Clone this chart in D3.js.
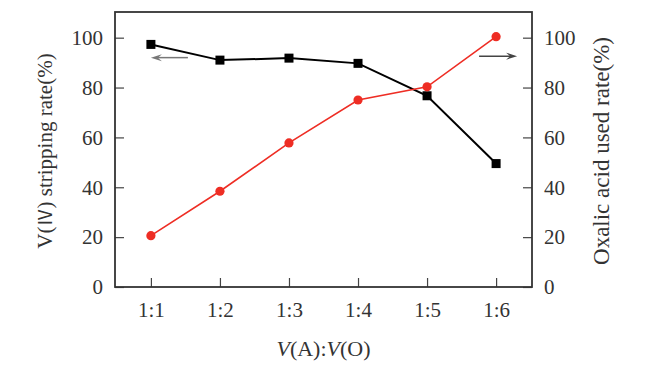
<!DOCTYPE html>
<html>
<head>
<meta charset="utf-8">
<script src="https://cdn.jsdelivr.net/npm/d3@7"></script>
<style>
  body { margin: 0; background: #fff; }
  svg text { font-family: "Liberation Serif", "Times New Roman", serif; fill: #333; }
</style>
</head>
<body>
<svg id="chart"></svg>
<script>
// data
var ratios = ['1:1', '1:2', '1:3', '1:4', '1:5', '1:6'];
var strippingRate = [97.3, 91.0, 91.8, 89.7, 76.7, 49.5];   // left axis, black squares
var oxalicUsedRate = [20.6, 38.4, 57.8, 75.0, 80.3, 100.4]; // right axis, red circles
var yTicks = [0, 20, 40, 60, 80, 100];

var width = 663,
    height = 372,
    margin = { top: 12, right: 131, bottom: 85, left: 115 };

var svg = d3.select('#chart')
    .attr('width', width)
    .attr('height', height);

var x = d3.scalePoint()
    .domain(ratios)
    .range([margin.left, width - margin.right])
    .padding(0.52);

var y = d3.scaleLinear()
    .domain([0, 110.3])
    .range([height - margin.bottom, margin.top]);

var y2 = d3.scaleLinear()
    .domain([0, 110.3])
    .range([height - margin.bottom, margin.top]);

var fontSize = '21px';

//axes, ticks drawn inward
var xAxis = d3.axisBottom(x).tickSizeInner(-9).tickSizeOuter(0).tickPadding(15);
var yAxis = d3.axisLeft(y).tickValues(yTicks).tickSizeInner(-9).tickSizeOuter(0).tickPadding(12);
var yAxis2 = d3.axisRight(y2).tickValues(yTicks).tickSizeInner(-9).tickSizeOuter(0).tickPadding(12);

function styleAxis(g) {
    g.select('.domain').remove();
    g.selectAll('line').attr('stroke', '#444').attr('stroke-width', 1.2);
    g.selectAll('text').attr('font-size', fontSize).attr('fill', '#333')
        .style('font-family', '"Liberation Serif", serif');
}

svg.append('g')
    .attr('transform', 'translate(0,' + (height - margin.bottom) + ')')
    .call(xAxis)
    .call(styleAxis);

svg.append('g')
    .attr('transform', 'translate(' + margin.left + ',0)')
    .call(yAxis)
    .call(styleAxis);

svg.append('g')
    .attr('transform', 'translate(' + (width - margin.right) + ',0)')
    .call(yAxis2)
    .call(styleAxis);

//frame
svg.append('rect')
    .attr('x', margin.left)
    .attr('y', margin.top)
    .attr('width', width - margin.left - margin.right)
    .attr('height', height - margin.top - margin.bottom)
    .attr('fill', 'none')
    .attr('stroke', '#333')
    .attr('stroke-width', 1.8);

//black series
var lineL = d3.line()
    .x(function (d, i) { return x(ratios[i]); })
    .y(function (d) { return y(d); });

svg.append('path')
    .datum(strippingRate)
    .attr('d', lineL)
    .attr('fill', 'none')
    .attr('stroke', '#000')
    .attr('stroke-width', 2);

svg.selectAll('rect.sq')
    .data(strippingRate)
    .enter().append('rect')
    .attr('class', 'sq')
    .attr('x', function (d, i) { return x(ratios[i]) - 4.5; })
    .attr('y', function (d) { return y(d) - 4.5; })
    .attr('width', 9)
    .attr('height', 9)
    .attr('fill', '#000');

//red series
var lineR = d3.line()
    .x(function (d, i) { return x(ratios[i]); })
    .y(function (d) { return y2(d); });

svg.append('path')
    .datum(oxalicUsedRate)
    .attr('d', lineR)
    .attr('fill', 'none')
    .attr('stroke', '#ee2d24')
    .attr('stroke-width', 1.6);

svg.selectAll('circle.dot')
    .data(oxalicUsedRate)
    .enter().append('circle')
    .attr('class', 'dot')
    .attr('cx', function (d, i) { return x(ratios[i]); })
    .attr('cy', function (d) { return y2(d); })
    .attr('r', 4.6)
    .attr('fill', '#ee2d24');

//axis-pointer arrows
function arrow(x1, x2, yy, color) {
    var dir = x2 > x1 ? 1 : -1;
    svg.append('line')
        .attr('x1', x1).attr('x2', x2 - dir * 6)
        .attr('y1', yy).attr('y2', yy)
        .attr('stroke', color)
        .attr('stroke-width', 1.5);
    svg.append('path')
        .attr('d', 'M' + x2 + ',' + yy +
            'L' + (x2 - dir * 11) + ',' + (yy - 3.5) +
            'L' + (x2 - dir * 7) + ',' + yy +
            'L' + (x2 - dir * 11) + ',' + (yy + 3.5) + 'Z')
        .attr('fill', color);
}
arrow(x(ratios[0]) + 37, x(ratios[0]), y(92), '#777');
arrow(x(ratios[5]) - 17, x(ratios[5]) + 21, y2(92.6), '#444');

//titles
svg.append('text')
    .attr('x', (margin.left + width - margin.right) / 2)
    .attr('y', 356)
    .attr('text-anchor', 'middle')
    .attr('font-size', '22px')
    .html('<tspan font-style="italic">V</tspan>(A):<tspan font-style="italic">V</tspan>(O)');

svg.append('text')
    .attr('transform', 'translate(52,' + 151 + ') rotate(-90)')
    .attr('text-anchor', 'middle')
    .attr('font-size', fontSize)
    .html('V(<tspan style="font-family:\'Noto Sans CJK SC\'" font-size="18px">Ⅳ</tspan>) stripping rate(%)');

svg.append('text')
    .attr('transform', 'translate(609,' + 151 + ') rotate(-90)')
    .attr('text-anchor', 'middle')
    .attr('font-size', '23px')
    .text('Oxalic acid used rate(%)');
</script>
</body>
</html>
